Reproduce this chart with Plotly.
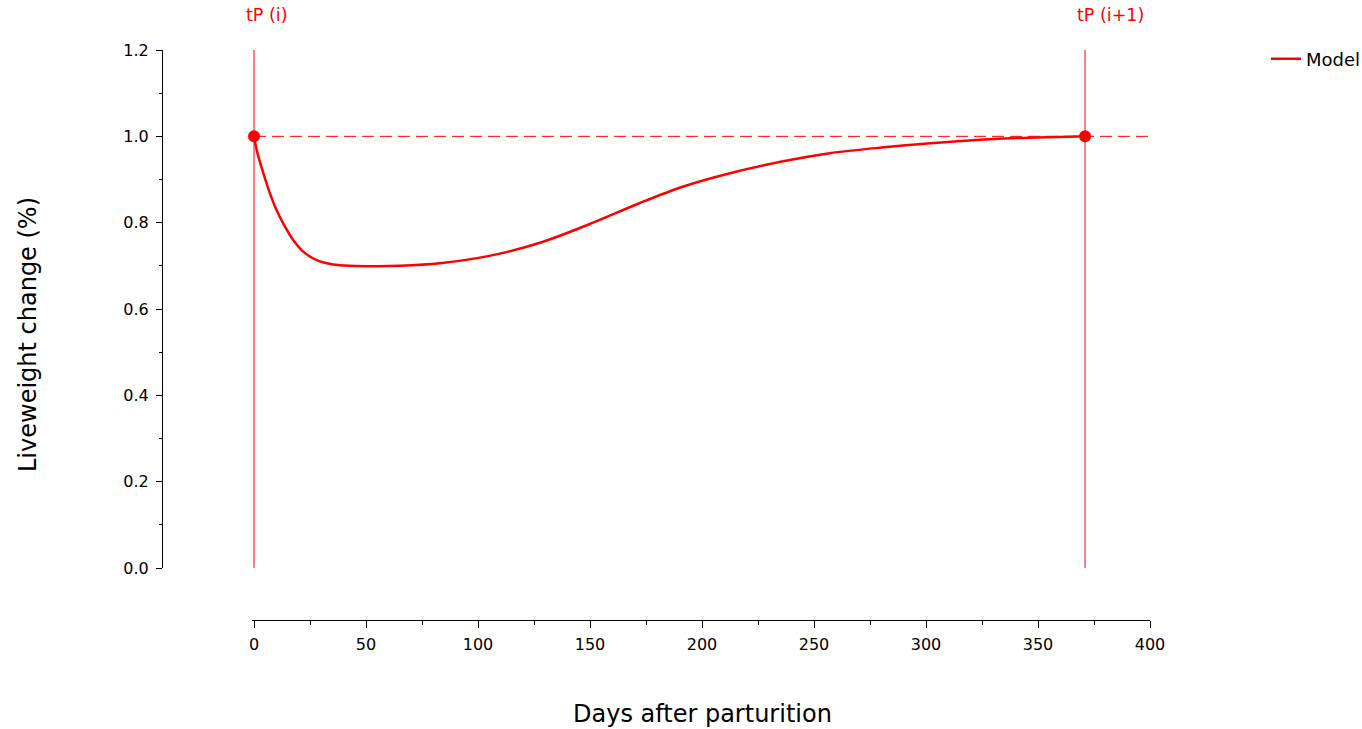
import plotly.graph_objects as go

# ---- data ----
days = [0, 1.2, 4.2, 7.1, 10.1, 13.1, 17.5, 22, 28, 35.4, 43, 55, 65, 83, 105, 128, 150, 172, 190, 212, 235, 257, 280, 302, 324, 346, 364, 371]
liveweight = [1.0, 0.968, 0.914, 0.868, 0.829, 0.798, 0.760, 0.733, 0.713, 0.703, 0.700, 0.699, 0.700, 0.706, 0.723, 0.754, 0.797, 0.845, 0.881, 0.914, 0.941, 0.961, 0.974, 0.984, 0.992, 0.997, 0.999, 1.0]
parturition_days = [0, 371]
parturition_labels = ["tP (i)", "tP (i+1)"]
reference_level = 1.0
x_range_end = 400
y_range = [0, 1.2]

RED = "#ff0000"
FONT = "DejaVu Sans"
W, H = 1362, 729
OFF = 0  # page body margin removed via post_script


def fx(px):
    return (px - OFF) / W


def fy(py):
    return (H - (py - OFF)) / H


fig = go.Figure()

# vertical lines at parturition
for d in parturition_days:
    fig.add_trace(go.Scatter(x=[d, d], y=y_range, mode="lines",
                             line=dict(color=RED, width=1), showlegend=False, hoverinfo="skip"))

# horizontal dashed reference line
fig.add_trace(go.Scatter(x=[parturition_days[0], x_range_end], y=[reference_level, reference_level],
                         mode="lines", line=dict(color=RED, width=1, dash="12px,6px"),
                         showlegend=False, hoverinfo="skip"))

# model curve
fig.add_trace(go.Scatter(x=days, y=liveweight, mode="lines", name="Model",
                         line=dict(color=RED, width=2.5, shape="spline", smoothing=0.8)))

# markers at parturition
fig.add_trace(go.Scatter(x=parturition_days, y=[reference_level] * len(parturition_days), mode="markers",
                         marker=dict(color=RED, size=12), showlegend=False, cliponaxis=False))

px_per_day = (1150 - 254) / 400
x_left_px = 254 - 1 * px_per_day

fig.update_layout(
    template="none",
    width=W, height=H,
    margin=dict(l=0, r=0, t=0, b=0, pad=0, autoexpand=False),
    plot_bgcolor="white", paper_bgcolor="white",
    font=dict(family=FONT, size=16, color="black"),
    xaxis=dict(domain=[fx(x_left_px), fx(1150)], range=[-1, x_range_end], anchor="free",
               position=fy(620), showline=True, linecolor="black", linewidth=1,
               ticks="outside", ticklen=7, tickcolor="black", tickwidth=1, dtick=50, tick0=0,
               minor=dict(dtick=25, ticks="outside", ticklen=4, tickcolor="black", tickwidth=1),
               showgrid=False, zeroline=False, automargin=False, tickfont=dict(size=16),
               ticklabelstandoff=3),
    yaxis=dict(domain=[fy(568), fy(50)], range=y_range, anchor="free",
               position=fx(162), showline=True, linecolor="black", linewidth=1,
               ticks="outside", ticklen=6, tickcolor="black", tickwidth=1, dtick=0.2, tick0=0,
               tickformat=".1f",
               minor=dict(dtick=0.1, ticks="outside", ticklen=3, tickcolor="black", tickwidth=1),
               showgrid=False, zeroline=False, automargin=False, tickfont=dict(size=16),
               ticklabelstandoff=4),
    legend=dict(x=fx(1266), y=fy(59), xanchor="left", yanchor="middle",
                font=dict(size=18), bgcolor="rgba(0,0,0,0)", borderwidth=0),
    showlegend=True,
)

annotations = [
    dict(text="Liveweight change (%)", x=fx(28), y=fy(335), xref="paper", yref="paper",
         xanchor="center", yanchor="middle",
         textangle=-90, showarrow=False, font=dict(size=24)),
    dict(text="Days after parturition", x=fx(702), y=fy(714), xref="paper", yref="paper",
         xanchor="center", yanchor="middle",
         showarrow=False, font=dict(size=24)),
]
for d, lab in zip(parturition_days, parturition_labels):
    annotations.append(dict(text=lab, x=d, xref="x", y=fy(15), yref="paper",
                            xanchor="left", yanchor="middle", xshift=-10, showarrow=False,
                            font=dict(size=17.5, color=RED)))
fig.update_layout(annotations=annotations)

fig.write_html("out.html", config={"displayModeBar": False},
               post_script="document.body.style.margin='0';document.body.style.overflow='hidden';")
